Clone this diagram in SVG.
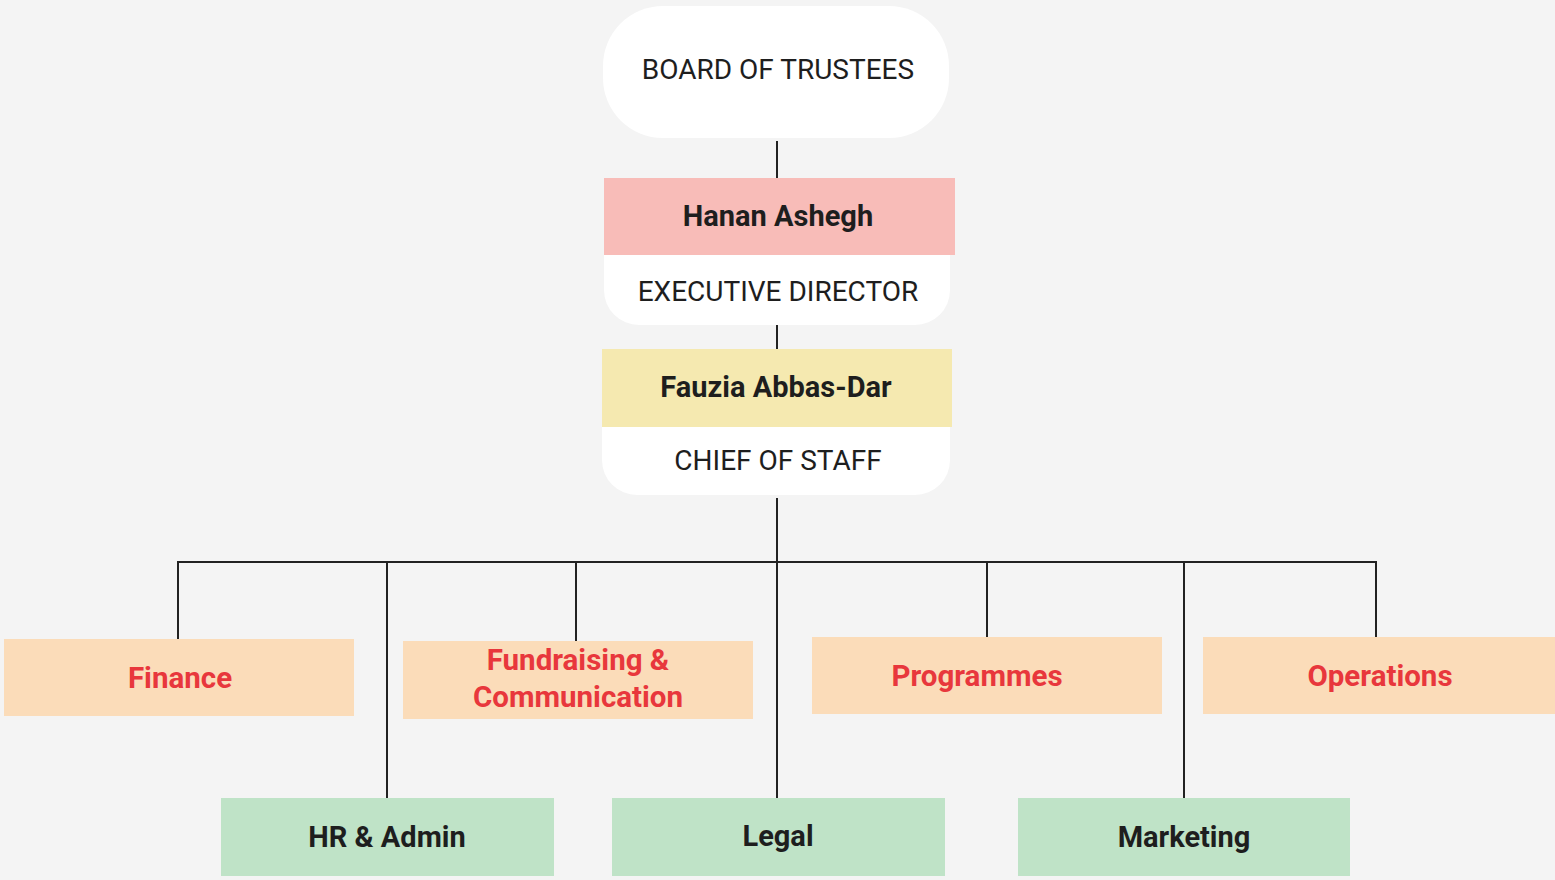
<svg xmlns="http://www.w3.org/2000/svg" width="1555" height="880" viewBox="0 0 1555 880">
<style>
.t{font-family:Roboto,"Liberation Sans",sans-serif;text-anchor:middle;dominant-baseline:central}
.title{font-size:28px;fill:#1e1e1e}
.name{font-size:29px;font-weight:bold;fill:#1e1e1e}
.dept{font-size:29.5px;font-weight:bold;fill:#e8373c}
.sub{font-size:29px;font-weight:bold;fill:#1e1e1e}
.c{stroke:#222;stroke-width:2;fill:none}
.peach{fill:#fbdcb9}
.green{fill:#bfe3c7}
</style>
<rect width="1555" height="880" fill="#f4f4f4"/>
<g id="connectors">
<path class="c" d="M777 141V178"/>
<path class="c" d="M777 325V349"/>
<path class="c" d="M777 498V800"/>
<path class="c" d="M178 639V562H1376V637"/>
<path class="c" d="M387 562V800"/>
<path class="c" d="M576 562V641"/>
<path class="c" d="M987 562V637"/>
<path class="c" d="M1184 562V800"/>
</g>
<g id="board">
<rect x="603" y="6" width="346" height="132" rx="60" fill="#fff"/>
<text class="t title" x="778" y="69">BOARD OF TRUSTEES</text>
</g>
<g id="executive-director">
<path d="M604 255H950V290A35 35 0 0 1 915 325H639A35 35 0 0 1 604 290Z" fill="#fff"/>
<rect x="604" y="178" width="351" height="77" fill="#f8bcb8"/>
<text class="t name" x="778" y="216">Hanan Ashegh</text>
<text class="t title" x="778" y="291">EXECUTIVE DIRECTOR</text>
</g>
<g id="chief-of-staff">
<path d="M602 427H950V460A35 35 0 0 1 915 495H637A35 35 0 0 1 602 460Z" fill="#fff"/>
<rect x="602" y="349" width="350" height="78" fill="#f5e9b0"/>
<text class="t name" x="776" y="387">Fauzia Abbas-Dar</text>
<text class="t title" x="778" y="460">CHIEF OF STAFF</text>
</g>
<g id="finance">
<rect class="peach" x="4" y="639" width="350" height="77"/>
<text class="t dept" x="180" y="678">Finance</text>
</g>
<g id="fundraising">
<rect class="peach" x="403" y="641" width="350" height="78"/>
<text class="t dept" x="578" y="660">Fundraising &amp;</text>
<text class="t dept" x="578" y="697">Communication</text>
</g>
<g id="programmes">
<rect class="peach" x="812" y="637" width="350" height="77"/>
<text class="t dept" x="977" y="676">Programmes</text>
</g>
<g id="operations">
<rect class="peach" x="1203" y="637" width="352" height="77"/>
<text class="t dept" x="1380" y="676">Operations</text>
</g>
<g id="hr-admin">
<rect class="green" x="221" y="798" width="333" height="78"/>
<text class="t sub" x="387" y="837">HR &amp; Admin</text>
</g>
<g id="legal">
<rect class="green" x="612" y="798" width="333" height="78"/>
<text class="t sub" x="778" y="836">Legal</text>
</g>
<g id="marketing">
<rect class="green" x="1018" y="798" width="332" height="78"/>
<text class="t sub" x="1184" y="837">Marketing</text>
</g>
</svg>
